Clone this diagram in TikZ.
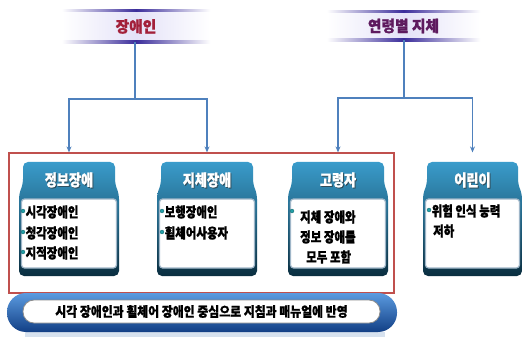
\documentclass[tikz,border=0pt]{standalone}
\usepackage{fontspec}
\setmainfont{Noto Sans CJK KR}
\newfontfamily\krnarrow{Noto Sans CJK KR}[FakeStretch=0.82,FakeBold=1.2]
\newfontfamily\krmid{Noto Sans CJK KR}[FakeStretch=0.88,FakeBold=1]
\newfontfamily\krhead{Noto Sans CJK KR}[FakeStretch=0.95,FakeBold=1]
\usetikzlibrary{arrows.meta,calc}
\definecolor{hred}{HTML}{A3203A}
\definecolor{hpur}{HTML}{5E1A5E}
\definecolor{band}{HTML}{E4E2F8}
\definecolor{bandline}{HTML}{3B2D9B}
\definecolor{conn}{HTML}{4F81BD}
\definecolor{frame}{HTML}{C0504D}
\definecolor{tabtop}{HTML}{3A9CCB}
\definecolor{tabmid}{HTML}{1A6A8C}
\definecolor{tabbot}{HTML}{0A2E40}
\definecolor{panelline}{HTML}{9FB6C8}
\definecolor{bul}{HTML}{22A0A8}
\definecolor{bantop}{HTML}{5B9BE0}
\definecolor{banmid}{HTML}{2D6CC0}
\definecolor{banbot}{HTML}{123F85}
\tikzset{
  hdrband/.style={inner sep=0, left color=white, right color=white, middle color=band,
    font=\krhead\bfseries\fontsize{15.5}{17}\selectfont},
  hdrline/.style={left color=white, right color=white, middle color=bandline},
  connline/.style={draw=conn, line width=1.5pt},
  arrowed/.style={connline, -{Stealth[length=6pt,width=5pt]}},
  tabfill/.style={rounded corners=5pt, top color=tabtop, middle color=tabmid, bottom color=tabbot},
  panel/.style={draw=panelline, line width=1.2pt, fill=white, rounded corners=3pt, inner sep=0},
  tabtitle/.style={text=white, font=\krnarrow\bfseries\fontsize{16}{18}\selectfont, inner sep=0},
  tabshadow/.style={text=black!80, opacity=0.6, font=\krnarrow\bfseries\fontsize{16}{18}\selectfont, inner sep=0},
  itemtext/.style={anchor=west, inner sep=0, font=\krnarrow\bfseries\fontsize{14}{16}\selectfont},
  bulletdot/.style={fill=bul, draw=bul!60!black, line width=0.3pt},
  boxarea/.style={inner sep=0, minimum width=100pt, minimum height=114pt},
}
% name, L, T, R, B, title
\newcommand\tabbox[6]{%
  \path[tabfill] ({#2+4},#3) -- ({#4-4},#3) -- ({#4-4},{#3+22}) -- (#4,{#3+32}) -- (#4,#5) -- (#2,#5) -- (#2,{#3+32}) -- ({#2+4},{#3+22}) -- cycle;
  \path[panel] ({#2+2.5},{#3+37}) rectangle ({#4-2.5},{#5-8});
  \node[boxarea] (#1) at ({(#2+#4)/2},{(#3+#5)/2}) {};
  \node[tabshadow] at ({(#2+#4)/2+1},{#3+19}) {#6};
  \node[tabtitle] (#1t) at ({(#2+#4)/2},{#3+18}) {#6};
}
\begin{document}
\begin{tikzpicture}[x=1pt,y=-1pt]
\useasboundingbox[fill=white] (0,0) rectangle (523,337);

% headers
\node[hdrband, minimum width=148pt, minimum height=31pt] (h1) at (136,26.5) {\textcolor{hred}{장애인}};
\path[hdrline] ($(h1.north west)+(0,-1)$) rectangle ($(h1.north east)+(0,1.2)$);
\path[hdrline] ($(h1.south west)+(0,-1.2)$) rectangle ($(h1.south east)+(0,1)$);

\node[hdrband, minimum width=153pt, minimum height=28pt] (h2) at (403.5,26) {\textcolor{hpur}{연령별 지체}};
\path[hdrline] ($(h2.north west)+(0,-1)$) rectangle ($(h2.north east)+(0,1.2)$);
\path[hdrline] ($(h2.south west)+(0,-1.2)$) rectangle ($(h2.south east)+(0,1)$);

% red frame
\node[draw=frame, line width=1.2pt, inner sep=0, minimum width=385pt, minimum height=140pt] (fr) at (201.5,223) {};

% boxes
\tabbox{b1}{19}{162}{119}{276}{정보장애}
\tabbox{b2}{157}{162}{257}{276}{지체장애}
\tabbox{b3}{288}{162}{388}{276}{고령자}
\tabbox{b4}{423}{162}{522}{276}{어린이}

% junctions
\coordinate (j1) at (135,99);
\coordinate (j2) at (404,98);

% connectors
\draw[connline] (h1.south -| j1) -- (j1);
\draw[arrowed] (j1) -| (b1.north |- fr.north);
\draw[arrowed] (j1) -| (b2.north |- fr.north);
\draw[connline] (h2.south -| j2) -- (j2);
\draw[arrowed] (j2) -| (b3.north |- fr.north);
\draw[arrowed] (j2) -| (b4.north |- fr.north);

% items box1
\fill[bulletdot] (23,211) circle (2);
\node[itemtext] (i11) at (25.5,212) {시각장애인};
\fill[bulletdot] (23,232) circle (2);
\node[itemtext] (i12) at (25.5,233) {청각장애인};
\fill[bulletdot] (23,252) circle (2);
\node[itemtext] (i13) at (25.5,253) {지적장애인};
% items box2
\fill[bulletdot] (162,211) circle (2);
\node[itemtext] (i21) at (164.5,212) {보행장애인};
\fill[bulletdot] (162,232) circle (2);
\node[itemtext] (i22) at (164.5,233) {휠체어사용자};
% items box3
\fill[bulletdot] (292,211) circle (2);
\node[itemtext] (i31) at (300,217) {지체 장애와};
\node[itemtext] (i32) at (300,237) {정보 장애를};
\node[itemtext] (i33) at (306,257) {모두 포함};
% items box4
\fill[bulletdot] (429,210) circle (2);
\node[itemtext] (i41) at (431.5,211) {위험 인식 능력};
\node[itemtext] (i42) at (433,231) {저하};

% bottom banner
\fill[conn!45, opacity=0.5] (25,332) rectangle (385,337);
\node[inner sep=0, minimum width=390pt, minimum height=39pt, rounded corners=19pt,
  top color=bantop, middle color=banmid, bottom color=banbot] (bn) at (202,312.5) {};
\node[inner sep=0, minimum width=357pt, minimum height=23pt, rounded corners=11pt,
  fill=white, draw=black!45, line width=0.8pt,
  font=\krmid\bfseries\fontsize{13.5}{15}\selectfont] (msg) at (201.5,311.5)
  {시각 장애인과 휠체어 장애인 중심으로 지침과 매뉴얼에 반영};
\end{tikzpicture}
\end{document}
